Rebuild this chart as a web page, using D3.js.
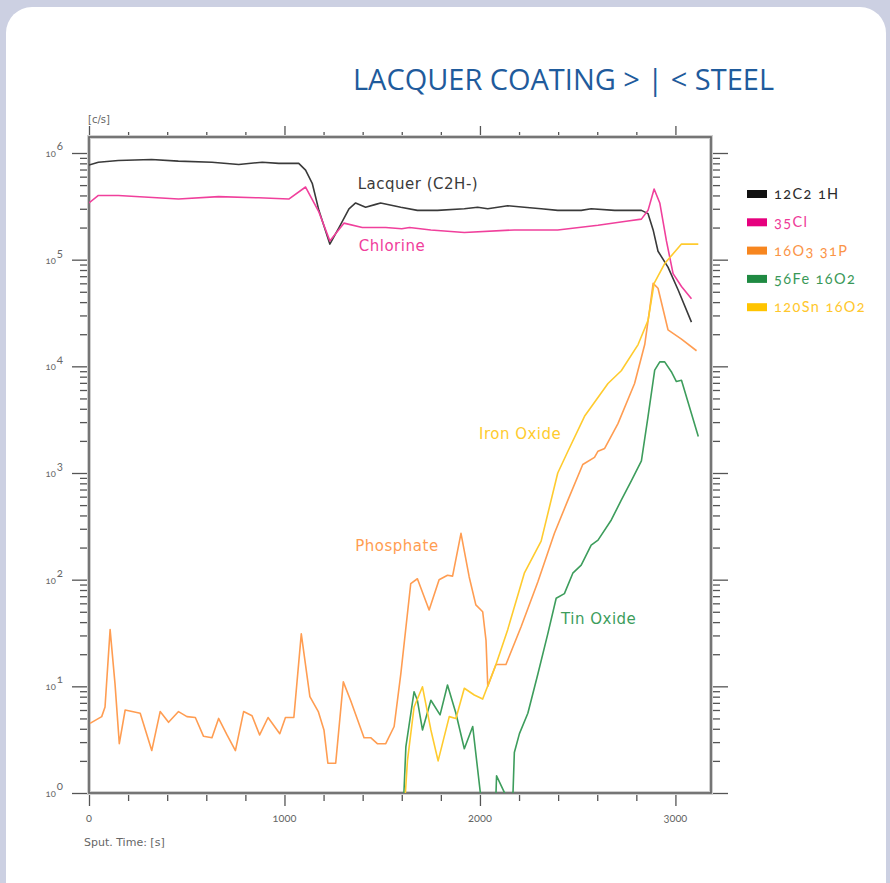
<!DOCTYPE html>
<html>
<head>
<meta charset="utf-8">
<script src="https://cdn.jsdelivr.net/npm/d3@7"></script>
<style>
  html, body { margin: 0; padding: 0; background: #ccd0e2; }
  svg { display: block; }
</style>
</head>
<body>
<svg id="chart" width="890" height="883"></svg>
<script>
// Sputter depth profile of a lacquer-coated steel sample: [time (s), intensity (counts/s)]
const lacquer = [[0,7.7e5],[48,8.2e5],[150,8.5e5],[320,8.7e5],[457,8.4e5],[629,8.2e5],[766,7.8e5],[886,8.2e5],[971,8.0e5],[1073,8.0e5],[1108,6.9e5],[1142,5.2e5],[1176,2.9e5],[1232,1.4e5],[1279,2.0e5],[1330,3.0e5],[1364,3.4e5],[1415,3.1e5],[1467,3.3e5],[1492,3.4e5],[1595,3.1e5],[1680,2.9e5],[1783,2.9e5],[1920,3.0e5],[1988,3.1e5],[2040,3.0e5],[2142,3.2e5],[2227,3.1e5],[2313,3.0e5],[2398,2.9e5],[2518,2.9e5],[2569,3.0e5],[2689,2.9e5],[2826,2.9e5],[2860,2.7e5],[2886,1.9e5],[2911,1.2e5],[2962,8.5e4],[3014,5.2e4],[3082,2.6e4]];

const chlorine = [[0,3.4e5],[48,4.0e5],[150,4.0e5],[458,3.7e5],[663,3.9e5],[868,3.8e5],[1022,3.7e5],[1108,4.8e5],[1176,2.8e5],[1232,1.5e5],[1304,2.2e5],[1398,2.0e5],[1518,2.0e5],[1600,1.95e5],[1640,2.0e5],[1749,1.9e5],[1920,1.8e5],[2176,1.9e5],[2398,1.9e5],[2604,2.1e5],[2757,2.3e5],[2826,2.4e5],[2860,2.9e5],[2891,4.6e5],[2920,3.4e5],[2954,1.5e5],[2988,7.4e4],[3031,5.6e4],[3082,4.3e4]];

const phosphate = [[5,4.5],[65,5.2],[82,6.4],[108,34],[133,10.6],[155,2.9],[185,6.0],[262,5.6],[321,2.5],[364,5.8],[407,4.6],[458,5.8],[501,5.2],[544,5.1],[586,3.4],[629,3.3],[663,5.0],[706,3.5],[749,2.5],[791,5.8],[834,5.3],[873,3.5],[916,5.1],[976,3.6],[1005,5.1],[1048,5.1],[1086,31],[1130,8.0],[1173,5.8],[1202,3.9],[1222,1.9],[1262,1.9],[1301,11],[1338,7.4],[1407,3.3],[1441,3.3],[1475,2.9],[1518,2.9],[1561,4.2],[1595,13],[1646,92],[1680,102],[1740,52],[1791,100],[1834,110],[1860,108],[1903,272],[1945,106],[1979,58],[2014,50],[2031,27],[2040,10],[2082,16],[2133,16],[2210,36],[2296,95],[2381,272],[2450,557],[2526,1200],[2586,1400],[2604,1600],[2638,1700],[2706,2900],[2791,6900],[2843,1.6e4],[2868,3.4e4],[2886,6.0e4],[2911,5.4e4],[2962,2.2e4],[3031,1.8e4],[3108,1.4e4]];

const ironOxide = [[1617,0.9],[1629,2.0],[1663,6.4],[1706,9.9],[1749,3.9],[1786,2.0],[1843,5.2],[1877,5.0],[1920,9.6],[1971,8.3],[2014,7.6],[2082,16],[2142,34],[2227,115],[2313,230],[2398,1000],[2450,1600],[2535,3400],[2655,6900],[2723,9100],[2809,1.6e4],[2860,2.7e4],[2891,6.0e4],[2945,9.2e4],[3031,1.4e5],[3117,1.4e5]];

const tinOxide = [[1610,0.9],[1621,2.7],[1663,8.9],[1680,7.4],[1706,3.9],[1749,7.4],[1796,5.4],[1834,10.3],[1877,5.6],[1920,2.6],[1963,4.2],[2005,0.9],[2015,0.4],[2075,0.4],[2085,1.45],[2138,0.9],[2150,0.4],[2165,0.6],[2176,2.4],[2202,3.6],[2245,5.6],[2296,13],[2347,31],[2390,67],[2432,74],[2475,115],[2518,137],[2569,211],[2604,235],[2672,363],[2723,557],[2775,850],[2826,1300],[2860,3400],[2894,9200],[2920,1.1e4],[2945,1.1e4],[2979,8900],[3005,7200],[3031,7400],[3117,2200]];

const seriesNames  = ["12C2 1H", "35Cl", "16O3 31P", "56Fe 16O2", "120Sn 16O2"];
const seriesData   = [lacquer, chlorine, phosphate, tinOxide, ironOxide];
const lineColors   = ["#3a3a3a", "#f0409c", "#ff9d52", "#3d9d5c", "#ffcb2e"];
const swatchColors = ["#111111", "#e6007e", "#f7861f", "#1f8a42", "#ffc400"];
const labelColors  = ["#2a2a2a", "#ee3a98", "#fb9447", "#3a9858", "#ffc72c"];

const xMajorTicks = [0, 1000, 2000, 3000];
const yExponents  = [0, 1, 2, 3, 4, 5, 6];

const annotations = [
  { text: "Lacquer (C2H-)", t: 1375, v: 4.6e5, color: "#3a3a3a" },
  { text: "Chlorine",       t: 1380, v: 1.20e5, color: "#f0409c" },
  { text: "Iron Oxide",     t: 1995, v: 2100,  color: "#ffcb2e" },
  { text: "Phosphate",      t: 1362, v: 185,   color: "#ff9d52" },
  { text: "Tin Oxide",      t: 2415, v: 38,    color: "#3d9d5c" }
];

const W = 890, H = 883;
const plot = { left: 89, right: 711, top: 137, bottom: 793 };

const svg = d3.select("#chart");

// page background and white rounded panel
svg.append("rect").attr("width", W).attr("height", H).attr("fill", "#ccd0e2");
svg.append("rect").attr("x", 6).attr("y", 7).attr("width", 880).attr("height", 920)
  .attr("rx", 26).attr("fill", "#ffffff");

const x = d3.scaleLinear().domain([0, 3182]).range([plot.left, plot.right]);
const y = d3.scaleLog().domain([1, Math.pow(10, 6.15)]).range([plot.bottom, plot.top]);

// title
svg.append("text")
  .attr("x", 353).attr("y", 90)
  .attr("textLength", 421).attr("lengthAdjust", "spacingAndGlyphs")
  .style("font-family", "'Open Sans', sans-serif").style("font-size", "29px")
  .attr("fill", "#1f5b9c")
  .text("LACQUER COATING > | < STEEL");

// unit label
svg.append("text").attr("x", 88).attr("y", 123)
  .style("font-family", "'DejaVu Sans', sans-serif").style("font-size", "10px")
  .attr("fill", "#666").text("[c/s]");

// ticks
const xTicks = d3.range(0, 3001, 200);
const yTicks = [];
yExponents.forEach(e => {
  for (let m = 1; m <= 9; m++) {
    const v = m * Math.pow(10, e);
    if (v <= y.domain()[1]) yTicks.push(v);
  }
});
const isMajorX = d => d % 1000 === 0;
const isMajorY = d => Math.abs(Math.log10(d) - Math.round(Math.log10(d))) < 1e-9;

function styleAxis(g, majorFn, majorLen, minorLen, sign, horizontal) {
  g.select(".domain").remove();
  g.selectAll(".tick line")
    .attr("stroke", "#555").attr("stroke-width", 1.3)
    .each(function(d) {
      const len = (majorFn(d) ? majorLen : minorLen) * sign;
      d3.select(this).attr(horizontal ? "y2" : "x2", len);
    });
  g.selectAll(".tick text").remove();
}

const axisLabelFont = "'Lato', 'DejaVu Sans', sans-serif";

const gBottom = svg.append("g").attr("transform", `translate(0,${plot.bottom})`)
  .call(d3.axisBottom(x).tickValues(xTicks));
styleAxis(gBottom, isMajorX, 13, 8, 1, true);

const gTop = svg.append("g").attr("transform", `translate(0,${plot.top})`)
  .call(d3.axisTop(x).tickValues(xTicks));
styleAxis(gTop, isMajorX, 11, 5, -1, true);

const gLeft = svg.append("g").attr("transform", `translate(${plot.left},0)`)
  .call(d3.axisLeft(y).tickValues(yTicks));
styleAxis(gLeft, isMajorY, 17, 9, -1, false);

const gRight = svg.append("g").attr("transform", `translate(${plot.right},0)`)
  .call(d3.axisRight(y).tickValues(yTicks));
styleAxis(gRight, isMajorY, 17, 9, 1, false);

// frame
svg.append("rect")
  .attr("x", plot.left).attr("y", plot.top)
  .attr("width", plot.right - plot.left).attr("height", plot.bottom - plot.top)
  .attr("fill", "none").attr("stroke", "#cfcfcf").attr("stroke-width", 4);
svg.append("rect")
  .attr("x", plot.left).attr("y", plot.top)
  .attr("width", plot.right - plot.left).attr("height", plot.bottom - plot.top)
  .attr("fill", "none").attr("stroke", "#666").attr("stroke-width", 1.7);

// x tick labels
svg.append("g").selectAll("text").data(xMajorTicks).join("text")
  .attr("x", d => x(d)).attr("y", 822)
  .attr("text-anchor", "middle")
  .style("font-family", axisLabelFont).style("font-size", "11px")
  .style("font-variant-numeric", "oldstyle-nums")
  .attr("fill", "#666").text(d => d);

svg.append("text").attr("x", 84).attr("y", 846)
  .style("font-family", "'DejaVu Sans', sans-serif").style("font-size", "11px")
  .attr("fill", "#666").text("Sput. Time: [s]");

// y tick labels (powers of ten)
const yl = svg.append("g").selectAll("text").data(yExponents).join("text")
  .attr("x", 63).attr("y", d => y(Math.pow(10, d)) + 4)
  .attr("text-anchor", "end")
  .style("font-family", axisLabelFont).style("font-variant-numeric", "oldstyle-nums")
  .attr("fill", "#666");
yl.append("tspan").style("font-size", "9.5px").text("10");
yl.append("tspan").attr("dy", -7).attr("dx", 1).style("font-size", "11.5px").text(d => d);

// series lines
svg.append("clipPath").attr("id", "plot-clip").append("rect")
  .attr("x", plot.left).attr("y", plot.top)
  .attr("width", plot.right - plot.left).attr("height", plot.bottom - plot.top);

const line = d3.line().x(d => x(d[0])).y(d => y(d[1]));
const gLines = svg.append("g").attr("clip-path", "url(#plot-clip)");
gLines.selectAll("path").data(seriesData).join("path")
  .attr("d", d => line(d))
  .attr("fill", "none")
  .attr("stroke", (d, i) => lineColors[i])
  .attr("stroke-width", 1.6)
  .attr("stroke-linejoin", "round");

// inline annotations
svg.append("g").selectAll("text").data(annotations).join("text")
  .attr("x", d => x(d.t)).attr("y", d => y(d.v))
  .style("font-family", "'DejaVu Sans', sans-serif").style("font-size", "15px")
  .style("letter-spacing", "0.5px")
  .attr("fill", d => d.color).text(d => d.text);

// legend
const legend = svg.append("g").attr("transform", "translate(747,194)");
const li = legend.selectAll("g").data(seriesNames).join("g")
  .attr("transform", (d, i) => `translate(0,${i * 28.3})`);
li.append("rect").attr("x", 0).attr("y", -4).attr("width", 20).attr("height", 8)
  .attr("fill", (d, i) => swatchColors[i]);
li.append("text").attr("x", 27).attr("y", 5)
  .style("font-family", axisLabelFont).style("font-size", "14.5px")
  .style("letter-spacing", "1.4px")
  .style("font-variant-numeric", "oldstyle-nums")
  .attr("fill", (d, i) => labelColors[i]).text(d => d);
</script>
</body>
</html>
